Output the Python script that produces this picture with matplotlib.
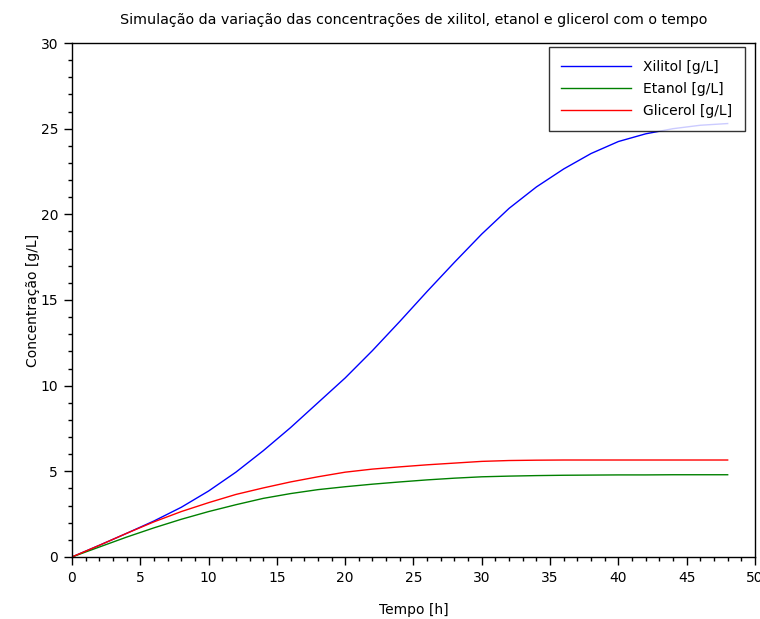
import matplotlib
matplotlib.use("Agg")
import matplotlib.pyplot as plt
from matplotlib.ticker import MultipleLocator

plt.rcParams['font.family'] = ['DejaVu Sans']

tempo = [0, 2, 4, 6, 8, 10, 12, 14, 16, 18, 20, 22, 24, 26, 28, 30, 32, 34, 36, 38, 40, 42, 44, 46, 48]
xilitol = [0, 0.68, 1.38, 2.1, 2.9, 3.85, 4.95, 6.2, 7.55, 9.0, 10.45, 12.05, 13.75, 15.5, 17.2, 18.85,
           20.35, 21.6, 22.65, 23.55, 24.25, 24.7, 25.0, 25.2, 25.3]
etanol = [0, 0.58, 1.16, 1.7, 2.2, 2.65, 3.05, 3.42, 3.7, 3.93, 4.1, 4.25, 4.38, 4.5, 4.6, 4.68,
          4.72, 4.75, 4.77, 4.78, 4.79, 4.79, 4.8, 4.8, 4.8]
glicerol = [0, 0.68, 1.38, 2.05, 2.65, 3.17, 3.65, 4.03, 4.38, 4.68, 4.95, 5.13, 5.26, 5.38, 5.48, 5.58,
            5.63, 5.65, 5.66, 5.66, 5.66, 5.66, 5.66, 5.66, 5.66]

labels = ["Xilitol [g/L]", "Etanol [g/L]", "Glicerol [g/L]"]
titulo = "Simulação da variação das concentrações de xilitol, etanol e glicerol com o tempo"

fig = plt.figure(figsize=(7.6, 6.19), dpi=100)
ax = fig.add_axes([0.0947, 0.1002, 0.8987, 0.8303])

ax.plot(tempo, xilitol, color=(0, 0, 1), lw=1.0, label=labels[0])
ax.plot(tempo, etanol, color=(0, 0.5, 0), lw=1.0, label=labels[1])
ax.plot(tempo, glicerol, color=(1, 0, 0), lw=1.0, label=labels[2])

ax.set_xlim(0, 50)
ax.set_ylim(0, 30)
ax.xaxis.set_major_locator(MultipleLocator(5))
ax.xaxis.set_minor_locator(MultipleLocator(1))
ax.yaxis.set_major_locator(MultipleLocator(5))
ax.yaxis.set_minor_locator(MultipleLocator(1))
ax.tick_params(which='major', direction='out', length=6, width=1, labelsize=10, pad=4)
ax.tick_params(which='minor', direction='out', length=3, width=1)
for s in ax.spines.values():
    s.set_linewidth(1.0)

ax.set_title(titulo, fontsize=10.3, pad=14)
ax.set_xlabel("Tempo [h]", fontsize=10, labelpad=13)
ax.set_ylabel("Concentração [g/L]", fontsize=10, labelpad=0)

leg = ax.legend(loc='upper right', bbox_to_anchor=(0.9854, 0.9922), fontsize=10, frameon=True,
                fancybox=False, edgecolor='black', handlelength=5.0, handletextpad=0.9,
                borderpad=0.9, labelspacing=0.6, borderaxespad=0.0)
leg.get_frame().set_linewidth(1.0)

fig.savefig("out.png", dpi=100)
